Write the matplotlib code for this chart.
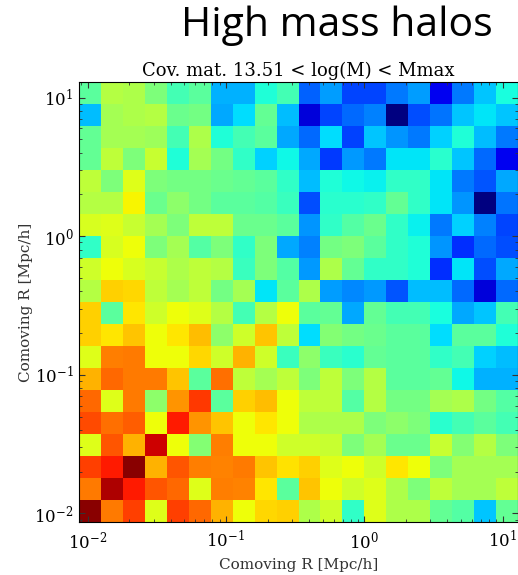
import numpy as np
import matplotlib
matplotlib.use('Agg')
import matplotlib.pyplot as plt

# bin edges in comoving radius, log spaced (Mpc/h)
r_min, r_max, n_bins = 10**-2.062, 10**1.112, 20

# covariance values, one list per radial bin (row 0 = smallest R)
cov = [
    [0.99, 0.78, 0.84, 0.62, 0.84, 0.80, 0.72, 0.64, 0.68, 0.69, 0.56, 0.60, 0.41, 0.62, 0.56, 0.56, 0.47, 0.45, 0.32, 0.47],
    [0.78, 0.96, 0.88, 0.82, 0.80, 0.62, 0.775, 0.77, 0.665, 0.46, 0.70, 0.64, 0.60, 0.62, 0.56, 0.50, 0.58, 0.55, 0.55, 0.58],
    [0.84, 0.88, 0.99, 0.72, 0.82, 0.775, 0.77, 0.78, 0.70, 0.67, 0.69, 0.62, 0.64, 0.60, 0.665, 0.64, 0.50, 0.55, 0.55, 0.55],
    [0.62, 0.82, 0.72, 0.93, 0.64, 0.51, 0.775, 0.64, 0.64, 0.60, 0.60, 0.59, 0.50, 0.55, 0.48, 0.48, 0.59, 0.51, 0.57, 0.50],
    [0.83, 0.79, 0.81, 0.64, 0.88, 0.75, 0.70, 0.64, 0.665, 0.64, 0.56, 0.56, 0.56, 0.50, 0.52, 0.50, 0.40, 0.43, 0.46, 0.43],
    [0.80, 0.62, 0.78, 0.52, 0.75, 0.85, 0.46, 0.69, 0.71, 0.64, 0.58, 0.58, 0.45, 0.57, 0.49, 0.49, 0.55, 0.56, 0.49, 0.45],
    [0.72, 0.80, 0.78, 0.78, 0.70, 0.46, 0.79, 0.58, 0.55, 0.58, 0.50, 0.58, 0.50, 0.57, 0.46, 0.46, 0.47, 0.37, 0.30, 0.30],
    [0.62, 0.775, 0.78, 0.64, 0.64, 0.68, 0.60, 0.72, 0.60, 0.42, 0.52, 0.42, 0.40, 0.47, 0.46, 0.46, 0.41, 0.43, 0.33, 0.31],
    [0.69, 0.665, 0.70, 0.64, 0.665, 0.71, 0.52, 0.60, 0.70, 0.58, 0.34, 0.51, 0.49, 0.48, 0.46, 0.46, 0.34, 0.46, 0.46, 0.39],
    [0.69, 0.46, 0.665, 0.60, 0.64, 0.62, 0.57, 0.43, 0.57, 0.64, 0.46, 0.47, 0.29, 0.47, 0.43, 0.43, 0.38, 0.29, 0.32, 0.43],
    [0.57, 0.69, 0.68, 0.58, 0.55, 0.58, 0.49, 0.55, 0.35, 0.46, 0.56, 0.28, 0.26, 0.275, 0.21, 0.31, 0.31, 0.23, 0.08, 0.23],
    [0.60, 0.64, 0.61, 0.59, 0.56, 0.58, 0.57, 0.42, 0.50, 0.45, 0.275, 0.56, 0.47, 0.41, 0.41, 0.39, 0.17, 0.35, 0.20, 0.29],
    [0.41, 0.61, 0.64, 0.50, 0.55, 0.45, 0.50, 0.41, 0.50, 0.29, 0.25, 0.49, 0.50, 0.46, 0.41, 0.39, 0.27, 0.17, 0.23, 0.20],
    [0.61, 0.62, 0.59, 0.55, 0.50, 0.58, 0.58, 0.48, 0.48, 0.46, 0.27, 0.41, 0.45, 0.48, 0.41, 0.36, 0.245, 0.33, 0.25, 0.195],
    [0.57, 0.57, 0.65, 0.48, 0.52, 0.49, 0.46, 0.46, 0.45, 0.42, 0.20, 0.40, 0.40, 0.41, 0.47, 0.41, 0.35, 0.27, 0.00, 0.24],
    [0.58, 0.50, 0.62, 0.50, 0.49, 0.49, 0.48, 0.47, 0.46, 0.41, 0.31, 0.39, 0.37, 0.36, 0.41, 0.41, 0.35, 0.245, 0.21, 0.29],
    [0.47, 0.58, 0.50, 0.59, 0.39, 0.55, 0.49, 0.41, 0.33, 0.37, 0.29, 0.18, 0.275, 0.245, 0.35, 0.35, 0.40, 0.32, 0.23, 0.10],
    [0.47, 0.55, 0.55, 0.54, 0.43, 0.56, 0.39, 0.43, 0.46, 0.29, 0.23, 0.34, 0.19, 0.32, 0.27, 0.245, 0.33, 0.39, 0.31, 0.245],
    [0.31, 0.55, 0.56, 0.57, 0.48, 0.49, 0.29, 0.34, 0.47, 0.31, 0.08, 0.195, 0.23, 0.25, 0.00, 0.20, 0.24, 0.32, 0.35, 0.32],
    [0.46, 0.57, 0.56, 0.50, 0.43, 0.46, 0.30, 0.30, 0.39, 0.43, 0.22, 0.28, 0.195, 0.195, 0.245, 0.28, 0.10, 0.245, 0.32, 0.38],
]

title = 'High mass halos'
subtitle = 'Cov. mat. 13.51 < log(M) < Mmax'
xlabel = 'Comoving R [Mpc/h]'
ylabel = 'Comoving R [Mpc/h]'

plt.rcParams['font.family'] = 'DejaVu Serif'
plt.rcParams['mathtext.fontset'] = 'dejavuserif'
plt.rcParams['xtick.direction'] = 'in'
plt.rcParams['ytick.direction'] = 'in'
plt.rcParams['xtick.top'] = True
plt.rcParams['ytick.right'] = True
plt.rcParams['xtick.major.size'] = 4
plt.rcParams['ytick.major.size'] = 4
plt.rcParams['xtick.minor.size'] = 2
plt.rcParams['ytick.minor.size'] = 2

edges = np.logspace(np.log10(r_min), np.log10(r_max), n_bins + 1)
C = np.array(cov)

fig = plt.figure(figsize=(5.18, 5.75), dpi=100)
W, H = 518.0, 575.0
ax = fig.add_axes([79 / W, (H - 522) / H, (518 - 79) / W, (522 - 82) / H])

ax.pcolormesh(edges, edges, C, cmap='jet', vmin=0.0, vmax=1.0)
ax.set_xscale('log')
ax.set_yscale('log')
ax.set_xlim(edges[0], edges[-1])
ax.set_ylim(edges[0], edges[-1])
ax.tick_params(axis='x', labelsize=12, pad=6)
ax.tick_params(axis='y', labelsize=12, pad=4)
ax.tick_params(which='both', color='#333333')

ax.set_xlabel(xlabel, fontsize=11, color='#333333')
ax.set_ylabel(ylabel, fontsize=11, color='#333333', labelpad=1)
ax.set_title(subtitle, fontsize=13, pad=4)

fig.text(0.65, 0.955, title, fontsize=29.5, family='Open Sans', ha='center', va='center')

fig.savefig('out.png', dpi=100)
